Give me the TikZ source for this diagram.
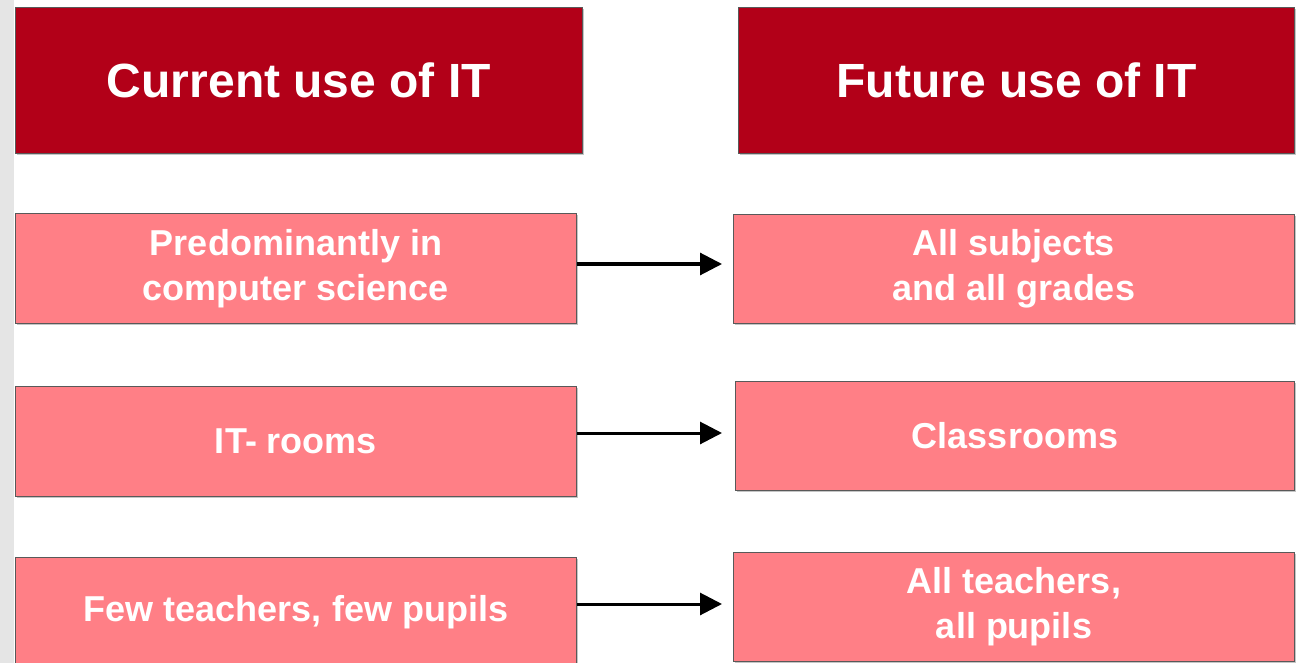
\documentclass[tikz,border=0pt]{standalone}
\usepackage{fontspec}
\setmainfont{Liberation Sans}
\usetikzlibrary{positioning}
\usetikzlibrary{calc,arrows.meta,shadows}

\definecolor{headred}{RGB}{178,0,24}
\definecolor{rowred}{RGB}{255,127,134}

\begin{document}
\begin{tikzpicture}[x=1pt,y=-1pt,
    box/.style={draw=black!65, line width=1pt, anchor=north west, text=white, align=center, inner sep=0pt,
      drop shadow={shadow xshift=1.5pt, shadow yshift=-1.5pt, opacity=0.45}},
    head/.style={box, fill=headred, minimum height=146pt, font=\fontsize{48}{56}\selectfont\bfseries},
    item/.style={box, fill=rowred, minimum height=110pt, font=\fontsize{36}{45}\selectfont\bfseries},
    link/.style={-{Triangle[length=22pt,width=22pt]}, line width=3pt}]
            \useasboundingbox (0,0) rectangle (1296,663);
            \fill[white] (0,0) rectangle (1296,663);
            \fill[black!10] (0,0) rectangle (14,663);

            % Cabeceras
            \node[head, minimum width=567pt] (cur) at (15,7) {Current use of IT};
            \node[head, minimum width=556pt] (fut) at (738,7) {Future use of IT};

            % Filas
            \node[item, minimum width=561pt] (c1) at (15,213) {Predominantly in\\computer science};
            \node[item, minimum width=561pt] (c2) at (15,386) {IT- rooms};
            \node[item, minimum width=561pt] (c3) at (15,557) {Few teachers, few pupils};
            \node[item, minimum width=561pt, minimum height=109pt] (f1) at (733,214) {All subjects\\and all grades};
            \node[item, minimum width=559pt, minimum height=109pt] (f2) at (735,381) {Classrooms};
            \node[item, minimum width=561pt, minimum height=109pt] (f3) at (733,552) {All teachers,\\all pupils};

            % Flechas
            \draw[link] ($(c1.east |- f1.west)+(0,-5)$) -- ($(f1.west)+(-11,-5)$);
            \draw[link] ($(c2.east |- f2.west)+(0,-3)$) -- ($(f2.west)+(-13,-3)$);
            \draw[link] ($(c3.east |- f3.west)+(0,-3)$) -- ($(f3.west)+(-11,-3)$);
\end{tikzpicture}
\end{document}
